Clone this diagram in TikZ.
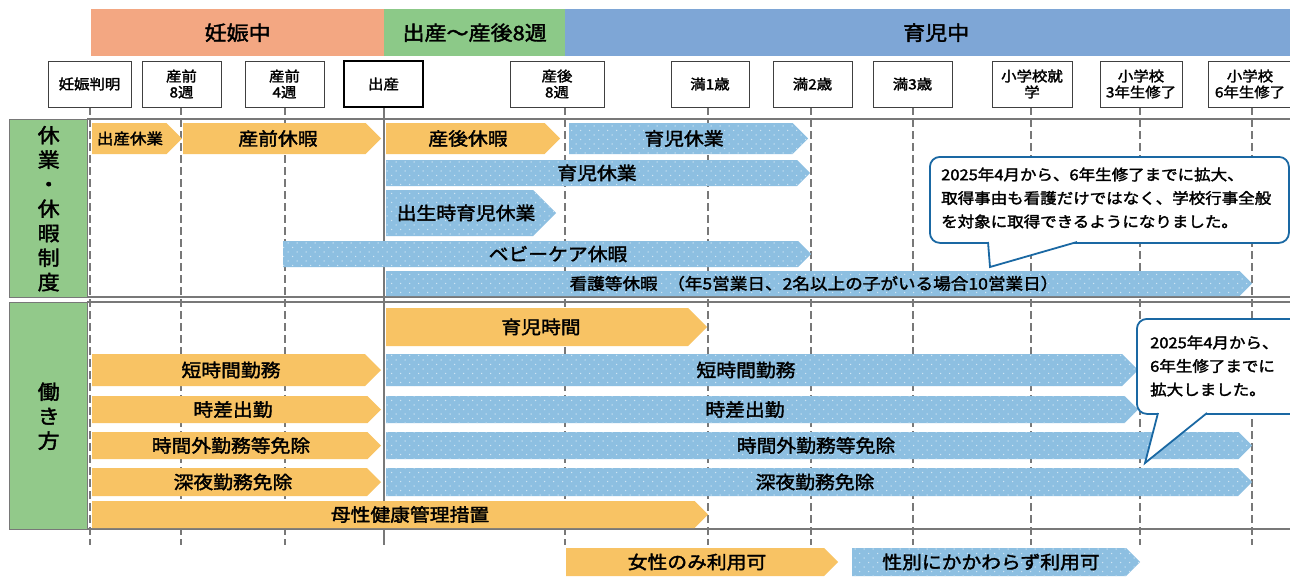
\documentclass[tikz,border=0pt]{standalone}
\usepackage{fontspec}
\setmainfont{Noto Sans CJK JP}[FakeStretch=1.1,FakeBold=2]
\usetikzlibrary{patterns.meta}
\definecolor{hOrange}{RGB}{243,167,130}
\definecolor{hGreen}{RGB}{140,201,136}
\definecolor{hBlue}{RGB}{126,166,214}
\definecolor{bOrange}{RGB}{248,195,100}
\definecolor{bBlue}{RGB}{141,191,225}
\definecolor{lGreen}{RGB}{146,201,138}
\definecolor{lGray}{RGB}{120,120,120}
\definecolor{cBlue}{RGB}{26,104,163}
\definecolor{dotc}{RGB}{205,228,243}
\tikzdeclarepattern{name=sdots,type=uncolored,bottom left={(-1pt,-1pt)},top right={(8pt,8pt)},tile size={(9pt,9pt)},code={\fill (0pt,0pt) circle (0.75pt);\fill (4.5pt,4.5pt) circle (0.75pt);}}
\newcommand\tlbar[8]{%
  \fill[#1] (#2,#4) -- ({#3-(#5-#4)/2},#4) -- (#3,{(#4+#5)/2}) -- ({#3-(#5-#4)/2},#5) -- (#2,#5) -- cycle;
  \node[bartext] (#7) at (#6,{(#4+#5)/2}) {#8};%
}
\begin{document}
\begin{tikzpicture}[x=1pt,y=-1pt,
  hdr/.style={anchor=north west, inner sep=0pt, minimum height=47pt, font=\fontsize{20}{24}\selectfont},
  msbox/.style={draw=black!75, line width=1pt, fill=white, minimum height=46pt, inner sep=0pt, align=center, font=\fontsize{14}{16}\selectfont},
  vline/.style={draw=lGray, line width=1.2pt, dash pattern=on 8pt off 4pt},
  frameline/.style={draw=lGray, line width=1.6pt},
  orbar/.style={fill=bOrange},
  blbar/.style={fill=bBlue, postaction={pattern=sdots, pattern color=dotc}},
  bartext/.style={inner sep=0pt, font=\fontsize{18}{20}\selectfont},
  lbox/.style={fill=lGreen, draw=lGray, line width=1.4pt, anchor=north west, minimum width=78pt, align=center, inner sep=0pt, font=\fontsize{20}{24.5}\selectfont},
  callbox/.style={draw=cBlue, line width=1.8pt, fill=white, rounded corners=10pt, inner sep=0pt, anchor=north west},
  calltext/.style={align=left, inner sep=0pt, anchor=west, font=\fontsize{15}{23.5}\selectfont},
  calltail/.style={draw=cBlue, line width=1.8pt, line join=miter}
]
\path[use as bounding box] (0,0) rectangle (1290,576);
\clip (0,0) rectangle (1290,576);
\fill[white] (0,0) rectangle (1290,576);

% header bands
\node[hdr, fill=hOrange, minimum width=293pt] (h1) at (91,9) {妊娠中};
\node[hdr, fill=hGreen, minimum width=181pt] (h2) at (384,9) {出産～産後8週};
\node[hdr, fill=hBlue, minimum width=742pt] (h3) at (565,9) {育児中};

% frame lines
\draw[frameline] (87,119) -- (1295,119);
\draw[frameline] (87,297) -- (1295,297);
\draw[frameline] (87,302) -- (1295,302);
\draw[frameline] (87,529) -- (1295,529);

% left labels
\node[lbox, minimum height=178pt] (L1) at (9,119) {休\\業\\・\\休\\暇\\制\\度};
\node[lbox, minimum height=227pt] (L2) at (9,302) {働\\き\\方};

% ticks
\foreach \x in {90,181,285,565,708,811,913,1031,1140,1252}
  \draw[vline] (\x,107) -- (\x,545);
\draw[draw=lGray, line width=2pt] (384,107) -- (384,545);

% milestone boxes
\node[msbox, minimum width=83pt] (m1) at (89.5,84) {妊娠判明};
\node[msbox, minimum width=79pt] (m2) at (181.5,84) {産前\\8週};
\node[msbox, minimum width=79pt] (m3) at (284.5,84) {産前\\4週};
\node[msbox, minimum width=79pt, line width=2pt, draw=black] (m4) at (383.5,84) {出産};
\node[msbox, minimum width=94pt] (m5) at (557,84) {産後\\8週};
\node[msbox, minimum width=78pt] (m6) at (710,84) {満1歳};
\node[msbox, minimum width=79pt] (m7) at (812.5,84) {満2歳};
\node[msbox, minimum width=79pt] (m8) at (912.5,84) {満3歳};
\node[msbox, minimum width=80pt] (m9) at (1032,84) {小学校就\\学};
\node[msbox, minimum width=82pt] (m10) at (1141,84) {小学校\\3年生修了};
\node[msbox, minimum width=84pt] (m11) at (1250,84) {小学校\\6年生修了};

% bars
\tlbar{orbar}{92}{182}{123}{154}{130}{b1}{\fontsize{15}{17}\selectfont 出産休業}
\tlbar{orbar}{183}{381}{123}{154}{278}{b2}{産前休暇}
\tlbar{orbar}{386}{560}{123}{154}{468}{b3}{産後休暇}
\tlbar{blbar}{569}{808}{123}{154}{684}{b4}{育児休業}
\tlbar{blbar}{386}{810}{160}{186}{597}{b5}{育児休業}
\tlbar{blbar}{386}{556}{190}{236}{466}{b6}{出生時育児休業}
\tlbar{blbar}{283}{811}{241}{267}{558}{b7}{ベビーケア休暇}
\tlbar{blbar}{386}{1252}{271}{296}{814}{b8}{\fontsize{16}{18}\selectfont 看護等休暇\hspace{0.6em}（年5営業日、2名以上の子がいる場合10営業日）}
\tlbar{orbar}{386}{707}{308}{346}{541}{b9}{育児時間}
\tlbar{orbar}{92}{381}{354}{386}{231}{b10}{短時間勤務}
\tlbar{blbar}{386}{1138}{354}{386}{746}{b11}{短時間勤務}
\tlbar{orbar}{92}{381}{396}{423}{233}{b12}{時差出勤}
\tlbar{blbar}{386}{1138}{396}{423}{745}{b13}{時差出勤}
\tlbar{orbar}{92}{381}{432}{459}{231}{b14}{時間外勤務等免除}
\tlbar{blbar}{386}{1252}{432}{459}{816}{b15}{時間外勤務等免除}
\tlbar{orbar}{92}{381}{468}{496}{233}{b16}{深夜勤務免除}
\tlbar{blbar}{386}{1252}{468}{496}{815}{b17}{深夜勤務免除}
\tlbar{orbar}{92}{708}{501}{528}{410}{b18}{母性健康管理措置}
\tlbar{orbar}{566}{838}{548}{576}{697}{b19}{女性のみ利用可}
\tlbar{blbar}{852}{1140}{548}{576}{991}{b20}{性別にかかわらず利用可}

% callout 1
\node[callbox, minimum width=359pt, minimum height=86pt] (c1) at (929,156) {};
\node[calltext] (c1t) at (941,198) {2025年4月から、6年生修了までに拡大、\\取得事由も看護だけではなく、学校行事全般\\を対象に取得できるようになりました。};
\fill[white] (988,236) -- (988,242) -- (990,267) -- (1077,242) -- (1077,236) -- cycle;
\draw[calltail] (988,242) -- (990,267) -- (1077,242);

% callout 2
\node[callbox, minimum width=180pt, minimum height=95pt] (c2) at (1136,318) {};
\node[calltext] (c2t) at (1150,366) {2025年4月から、\\6年生修了までに\\拡大しました。};
\fill[white] (1158,407) -- (1158,413) -- (1145,463) -- (1207,413) -- (1207,407) -- cycle;
\draw[calltail] (1158,413) -- (1145,463) -- (1207,413);
\end{tikzpicture}
\end{document}
